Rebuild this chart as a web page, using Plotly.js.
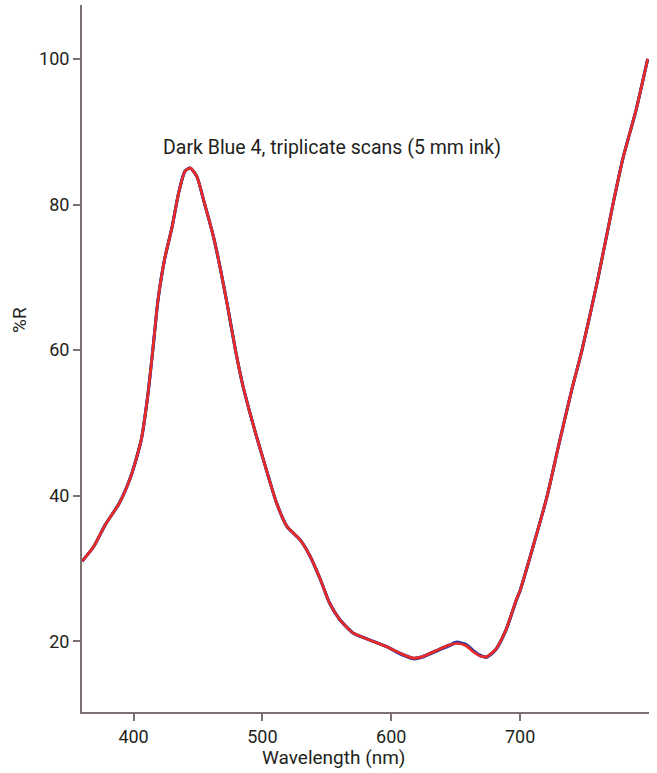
<!DOCTYPE html>
<html>
<head>
<meta charset="utf-8">
<script src="https://cdn.plot.ly/plotly-3.0.1.min.js"></script>
<style>
  html, body { margin: 0; padding: 0; background: #ffffff; }
  #chart { width: 657px; height: 773px; }
</style>
</head>
<body>
<div id="chart"></div>
<script>
// Wavelength (nm) sample points
var wavelength = [360, 369, 378, 389, 398, 406, 411, 415, 419, 424, 430, 435, 440, 444, 449, 455, 462, 467, 473, 479, 485, 490, 495, 500, 505, 511, 519, 529, 537, 545, 552, 560, 570, 583, 596, 609, 617, 624, 637, 645, 651, 658, 664, 669, 674, 681, 689, 697, 700, 710, 721, 730, 740, 748, 760, 772, 780, 790, 799];

// %R for the three scans (they overlap almost exactly)
var scanBlueA = [31.0, 33.0, 36.0, 39.0, 42.7, 47.7, 53.7, 60.1, 66.9, 72.4, 77.0, 81.6, 84.6, 85.0, 83.9, 80.2, 75.6, 71.5, 66.0, 60.1, 55.0, 51.6, 48.4, 45.4, 42.4, 39.0, 35.8, 34.0, 31.7, 28.5, 25.3, 23.0, 21.2, 20.2, 19.3, 18.2, 17.7, 17.9, 18.9, 19.5, 19.9, 19.5, 18.6, 18.0, 17.9, 18.9, 21.6, 25.7, 27.0, 33.0, 40.0, 47.0, 54.5, 60.0, 69.5, 80.0, 86.5, 93.0, 100.0];
var scanBlueB = [31.0, 33.0, 36.0, 39.0, 42.7, 47.7, 53.7, 60.1, 66.9, 72.4, 77.0, 81.6, 84.6, 85.0, 83.9, 80.2, 75.6, 71.5, 66.0, 60.1, 55.0, 51.6, 48.4, 45.4, 42.4, 39.0, 35.8, 34.0, 31.7, 28.5, 25.3, 23.0, 21.2, 20.2, 19.3, 18.1, 17.6, 17.8, 18.8, 19.4, 19.8, 19.6, 18.7, 18.1, 17.8, 18.8, 21.5, 25.6, 27.0, 33.0, 40.0, 47.0, 54.5, 60.0, 69.5, 80.0, 86.5, 93.0, 100.0];
var scanRed = [31.0, 33.0, 36.0, 39.0, 42.7, 47.7, 53.7, 60.1, 66.9, 72.4, 77.0, 81.6, 84.6, 85.0, 83.9, 80.2, 75.6, 71.5, 66.0, 60.1, 55.0, 51.6, 48.4, 45.4, 42.4, 39.0, 35.8, 34.0, 31.7, 28.5, 25.3, 23.0, 21.2, 20.2, 19.3, 18.2, 17.7, 17.9, 18.9, 19.5, 19.7, 19.4, 18.5, 18.0, 17.9, 18.9, 21.6, 25.7, 27.0, 33.0, 40.0, 47.0, 54.5, 60.0, 69.5, 80.0, 86.5, 93.0, 100.0];

var xTickVals = [400, 500, 600, 700];
var yTickVals = [20, 40, 60, 80, 100];

var chartLabel = 'Dark Blue 4, triplicate scans (5 mm ink)';
var xLabel = 'Wavelength (nm)';
var yLabel = '%R';

var FONT = 'Roboto, "Liberation Sans", sans-serif';
var AXIS = '#7d7272';
var TEXT = '#231f20';

function scan(y, color, width) {
  return {
    x: wavelength, y: y, type: 'scatter', mode: 'lines',
    line: { color: color, width: width, shape: 'spline', smoothing: 0.6 },
    hoverinfo: 'skip', showlegend: false
  };
}

var data = [
  scan(scanBlueA, '#2e3a9c', 3),
  scan(scanBlueB, '#2e3a9c', 3),
  scan(scanRed, '#ee2a24', 2.6)
];

var layout = {
  width: 657, height: 773,
  margin: { l: 82, r: 8, t: 5, b: 61 },
  paper_bgcolor: '#ffffff', plot_bgcolor: '#ffffff',
  font: { family: FONT, size: 18, color: TEXT },
  showlegend: false,
  xaxis: {
    range: [360, 800], tickvals: xTickVals, ticktext: xTickVals.map(String),
    showgrid: false, zeroline: false,
    showline: true, linecolor: AXIS, linewidth: 2,
    ticks: 'outside', ticklen: 7, tickwidth: 2, tickcolor: AXIS,
    tickfont: { family: FONT, size: 18, color: TEXT },
    fixedrange: true
  },
  yaxis: {
    range: [10.3, 107.4], tickvals: yTickVals, ticktext: yTickVals.map(String),
    showgrid: false, zeroline: false,
    showline: true, linecolor: AXIS, linewidth: 2,
    ticks: 'outside', ticklen: 7, tickwidth: 2, tickcolor: AXIS,
    tickfont: { family: FONT, size: 18, color: TEXT },
    fixedrange: true
  },
  annotations: [
    { text: chartLabel, xref: 'paper', yref: 'paper', x: (332 - 82) / 567, y: (712 - 147) / 707,
      xanchor: 'center', yanchor: 'middle', showarrow: false,
      font: { family: FONT, size: 19.5, color: TEXT } },
    { text: xLabel, xref: 'paper', yref: 'paper', x: (333 - 82) / 567, y: -(757 - 712) / 707,
      xanchor: 'center', yanchor: 'middle', showarrow: false,
      font: { family: FONT, size: 19, color: TEXT } },
    { text: yLabel, xref: 'paper', yref: 'paper', x: -(82 - 20) / 567, y: (712 - 320) / 707,
      xanchor: 'center', yanchor: 'middle', showarrow: false, textangle: -90,
      font: { family: FONT, size: 19, color: TEXT } }
  ]
};

Plotly.newPlot('chart', data, layout, { displayModeBar: false, staticPlot: true });
</script>
</body>
</html>
